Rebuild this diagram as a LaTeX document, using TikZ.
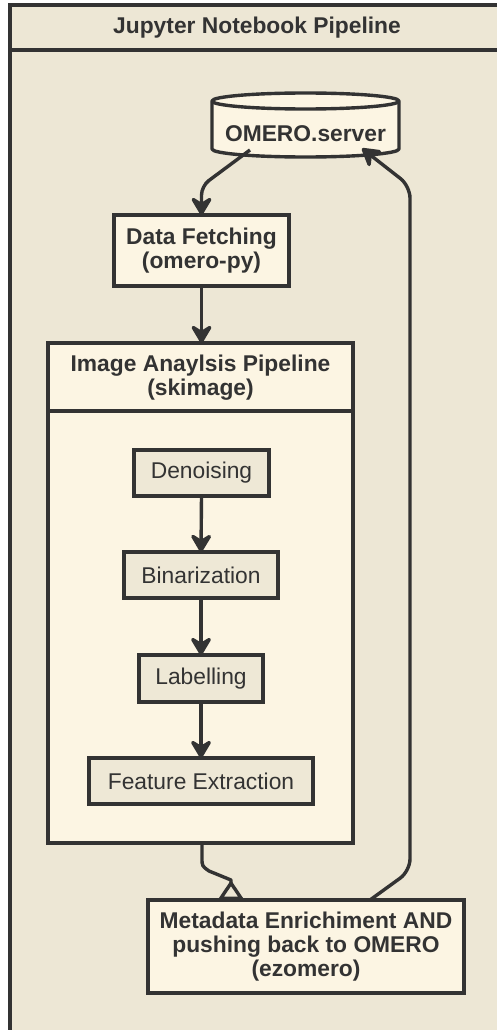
\documentclass[tikz,border=0pt]{standalone}
\usepackage{fontspec}
\setmainfont{Liberation Sans}
\usetikzlibrary{arrows.meta,calc}
\definecolor{framebg}{HTML}{EDE7D5}
\definecolor{cream}{HTML}{FCF5E3}
\definecolor{stepbg}{HTML}{EEE8D6}
\definecolor{ink}{HTML}{333333}
\tikzset{
  x=1pt,y=1pt,
  every node/.style={inner sep=0pt,outer sep=0pt,text=ink,align=center,font=\fontsize{22.8}{24}\selectfont},
  boldbox/.style={draw=ink,line width=3.4pt,fill=cream,font=\fontsize{22.8}{24}\selectfont\bfseries},
  stepbox/.style={draw=ink,line width=3.4pt,fill=stepbg},
  arr/.style={color=ink,line width=3.4pt,line join=round,-{Stealth[length=22pt,width=26pt,inset=8pt,round]}},
}
\begin{document}
\begin{tikzpicture}
\useasboundingbox (0,0) rectangle (497,-1030);
\fill[white] (0,0) rectangle (497,-1030);
% outer frame
\draw[ink,line width=3.4pt,fill=framebg] (10,-5) rectangle (530,-1050);
\draw[ink,line width=3.4pt] (10,-50) -- (530,-50);
\node[font=\fontsize{22.8}{24}\selectfont\bfseries] (title) at (257,-28) {Jupyter Notebook Pipeline};
% OMERO cylinder
\node[minimum width=187pt,minimum height=64pt] (omero) at (305.5,-125) {};
\draw[ink,line width=3.4pt,fill=cream,line join=round]
  (212,-101) -- (212,-149) arc[start angle=180,end angle=360,x radius=93.5pt,y radius=8pt]
  -- (399,-101) arc[start angle=0,end angle=180,x radius=93.5pt,y radius=8pt] -- cycle;
\draw[ink,line width=3.4pt] (212,-101) arc[start angle=180,end angle=360,x radius=93.5pt,y radius=8pt];
\node[font=\fontsize{22.8}{24}\selectfont\bfseries] (omerotext) at (305.5,-134) {OMERO.server};
% Data fetching
\node[boldbox,minimum width=175pt,minimum height=71pt] (fetch) at (201.5,-250.5) {Data Fetching\\(omero-py)};
% Image analysis container
\node[draw=ink,line width=3.4pt,fill=cream,minimum width=305pt,minimum height=500pt] (ana) at (200.5,-593) {};
\draw[ink,line width=3.4pt] (ana.north west |- 0,-411) -- (ana.north east |- 0,-411);
\node[font=\fontsize{22.8}{24}\selectfont\bfseries] (anatitle) at (200.5,-378) {Image Anaylsis Pipeline\\(skimage)};
% steps
\node[stepbox,minimum width=135pt,minimum height=46pt] (den) at (201.5,-473) {Denoising};
\node[stepbox,minimum width=154pt,minimum height=46pt] (bin) at (201,-575) {Binarization};
\node[stepbox,minimum width=124pt,minimum height=47pt] (lab) at (201,-678.5) {Labelling};
\node[stepbox,minimum width=224pt,minimum height=46pt] (feat) at (201,-781) {Feature Extraction};
% metadata
\node[boldbox,minimum width=316pt,minimum height=93pt] (meta) at (306,-946.5) {Metadata Enrichiment AND\\pushing back to OMERO\\(ezomero)};
% connectors
\draw[arr,rounded corners=9pt] ($(omero.south)+(-55.5,7)$) -- (201.5,-186) -- (fetch.north);
\draw[arr] (fetch.south) -- (fetch.south |- ana.north);
\draw[arr] (den.south) -- (bin.north);
\draw[arr] (bin.south) -- (lab.north);
\draw[arr] (lab.south) -- (feat.north);
\draw[color=ink,line width=3.4pt,line join=round,-{Triangle[open,reversed,length=20pt,width=26pt,fill=framebg]}]
  (202,-843) -- (202,-858) .. controls (202,-866) .. (209,-871) -- (231,-880) -- (231,-900);
\draw[arr,rounded corners=12pt] ($(meta.north)+(64,0)$) -- (410,-871) -- (410,-186) -- ($(omero.south)+(56.5,8.5)$);
\end{tikzpicture}
\end{document}
